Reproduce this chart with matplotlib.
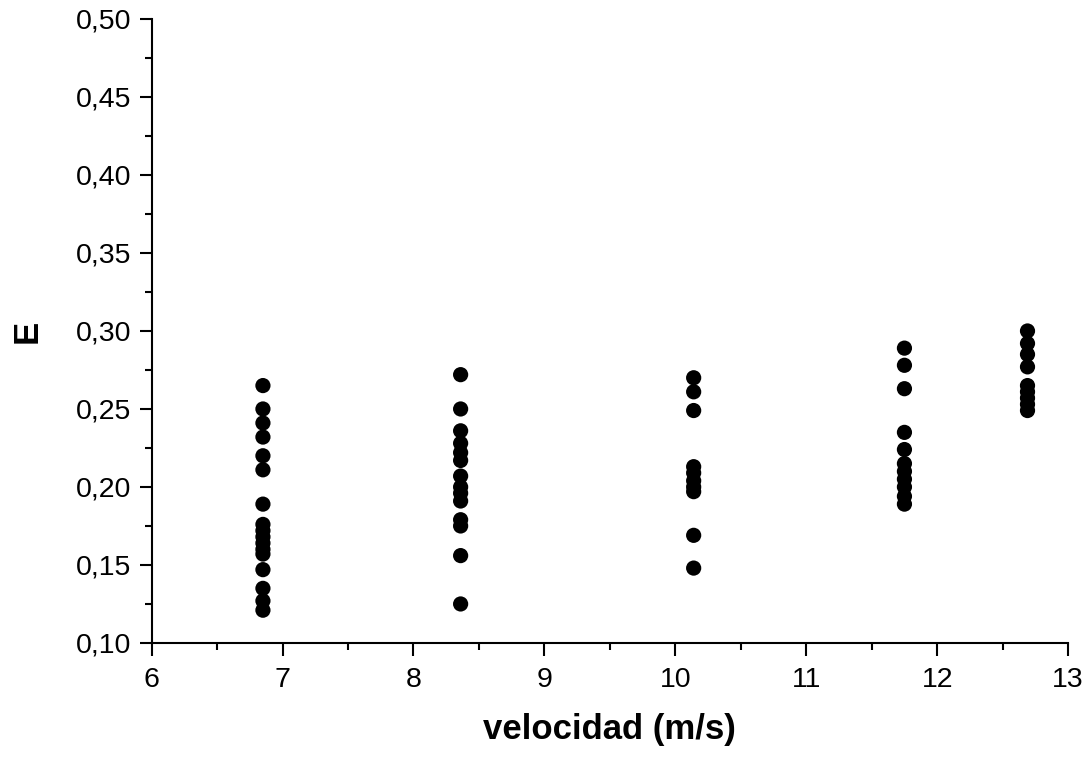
import matplotlib
matplotlib.use('Agg')
import matplotlib.pyplot as plt
from matplotlib.ticker import MultipleLocator, FuncFormatter

plt.rcParams['font.family'] = ['Liberation Sans', 'DejaVu Sans']

velocidades = [6.85, 8.36, 10.14, 11.75, 12.69]
e_v1 = [0.265, 0.250, 0.241, 0.232, 0.220, 0.211, 0.189, 0.176, 0.172,
        0.168, 0.164, 0.160, 0.157, 0.147, 0.135, 0.127, 0.121]
e_v2 = [0.272, 0.250, 0.236, 0.228, 0.222, 0.217, 0.207, 0.200, 0.196,
        0.191, 0.179, 0.175, 0.156, 0.125]
e_v3 = [0.270, 0.261, 0.249, 0.213, 0.209, 0.204, 0.200, 0.197, 0.169, 0.148]
e_v4 = [0.289, 0.278, 0.263, 0.235, 0.224, 0.215, 0.210, 0.205, 0.200,
        0.194, 0.189]
e_v5 = [0.300, 0.292, 0.285, 0.277, 0.265, 0.261, 0.257, 0.253, 0.249]
grupos = [e_v1, e_v2, e_v3, e_v4, e_v5]

fig = plt.figure(figsize=(10.91, 7.6), dpi=100)
ax = fig.add_axes([0.139, 0.154, 0.840, 0.821])

for v, valores in zip(velocidades, grupos):
    ax.scatter([v] * len(valores), valores, s=120, color='black', edgecolors='none', zorder=3)

ax.set_xlim(6, 13)
ax.set_ylim(0.10, 0.50)
ax.xaxis.set_major_locator(MultipleLocator(1))
ax.xaxis.set_minor_locator(MultipleLocator(0.5))
ax.yaxis.set_major_locator(MultipleLocator(0.05))
ax.yaxis.set_minor_locator(MultipleLocator(0.025))
ax.yaxis.set_major_formatter(FuncFormatter(lambda y, p: f'{y:.2f}'.replace('.', ',')))

for s in ['top', 'right']:
    ax.spines[s].set_visible(False)
for s in ['left', 'bottom']:
    ax.spines[s].set_linewidth(1.5)

ax.tick_params(which='major', direction='out', length=9, width=1.5, labelsize=20.5, pad=8)
ax.tick_params(which='minor', direction='out', length=5, width=1.5)
ax.tick_params(axis='y', pad=5.5)

ax.set_xlabel('velocidad (m/s)', fontsize=25, fontweight='bold', labelpad=15)
ax.set_ylabel('E', fontsize=25, fontweight='bold', labelpad=23)

fig.savefig('out.png', dpi=100)
plt.close(fig)
